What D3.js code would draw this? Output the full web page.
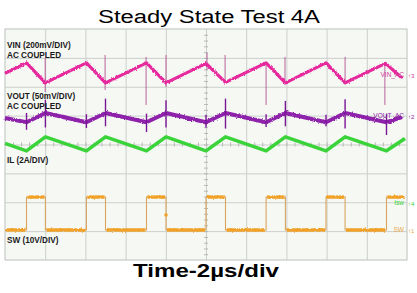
<!DOCTYPE html>
<html>
<head>
<meta charset="utf-8">
<script src="https://cdn.jsdelivr.net/npm/d3@7"></script>
<style>
  body { margin: 0; background: #fff; }
  text { font-family: "Liberation Sans", Arial, sans-serif; }
</style>
</head>
<body>
<script>
// time in µs (2µs/div), values in channel units
const riseT = [1.07, 4.05, 7.04, 10.0, 12.99, 15.97, 18.98]
const fallT = [2.01, 5.0, 8.01, 10.97, 13.95, 16.92]

const vinT  = [0, 1.07, 2.01, 4.05, 5.0, 7.04, 8.01, 10.0, 10.97, 12.99, 13.95, 15.97, 16.92, 18.93, 19.75]
const vinMv = [11, 83, -55, 83, -55, 83, -55, 80, -52, 83, -55, 83, -55, 80, -21]
const vinSpikeT  = [2.0, 4.98, 7.02, 8.01, 10.05, 10.95, 12.99, 13.93, 16.92, 18.9]
const vinSpikeHi = [118, 138, 125, 138, 152, 138, 83, 125, 125, 69]
const vinSpikeLo = [-118, -104, -208, -83, 35, -55, -208, -69, -69, -208]

const voutT  = [0, 1.07, 2.01, 4.05, 5.0, 7.04, 8.01, 10.0, 10.97, 12.99, 13.95, 15.97, 16.92, 18.98, 19.75]
const voutMv = [-3.5, -11, 5, -11, 5, -11, 5, -11, 5, -11, 5, -11, 5, -11, -2]
const voutSpikeT  = [1.07, 2.01, 4.05, 5.0, 7.04, 8.01, 10.0, 10.97, 12.99, 13.95, 15.97, 16.92, 18.98]
const voutSpikeHi = [5, 28, 3, 30, 4, 27, 2, 30, 3, 26, 2, 29, 3]
const voutSpikeLo = [-24, -20, -21, -18, -28, -20, -20, -22, -19, -18, -18, -22, -33]

const ilT = [0, 1.07, 2.01, 4.05, 5.0, 7.04, 8.01, 10.0, 10.97, 12.99, 13.95, 15.97, 16.92, 18.98, 19.9]
const ilA = [4.12, 3.6, 4.57, 3.6, 4.57, 3.6, 4.57, 3.6, 4.57, 3.6, 4.57, 3.6, 4.57, 3.6, 4.45]

const swHigh = 11.4
const swLow = 0
const swGlitch = [8.01, 5.2]

const width = 417
const height = 293
const plotL = 5, plotR = 407, plotT = 29, plotB = 260

const svg = d3.select("body").append("svg")
  .attr("width", width)
  .attr("height", height)

// scope trace fuzz
const filt = svg.append("defs").append("filter").attr("id", "fuzz")
  .attr("x", "-5%").attr("y", "-50%").attr("width", "110%").attr("height", "200%")
filt.append("feTurbulence").attr("type", "fractalNoise").attr("baseFrequency", "0.9 0.6")
  .attr("numOctaves", 1).attr("seed", 3).attr("result", "n")
filt.append("feDisplacementMap").attr("in", "SourceGraphic").attr("in2", "n")
  .attr("scale", 3).attr("xChannelSelector", "R").attr("yChannelSelector", "G")

const x = d3.scaleLinear().domain([0, 20]).range([plotL, plotR])
const yDiv = d3.scaleLinear().domain([-4, 4]).range([plotB, plotT])

// scope channel settings: zero position (div) and units per div
const vinY  = v => yDiv(2.41 + v / 200)
const voutY = v => yDiv(0.99 + v / 50)
const ilY   = v => yDiv(-2.02 + v / 2)
const swY   = v => yDiv(-2.96 + v / 10)

svg.append("rect")
  .attr("x", plotL).attr("y", plotT)
  .attr("width", plotR - plotL).attr("height", plotB - plotT)
  .attr("fill", "#f6f8f4")
  .attr("stroke", "#bcc0bc")

// grid
svg.append("g")
  .attr("transform", "translate(0," + plotB + ")")
  .call(d3.axisBottom(x).tickValues(d3.range(2, 20, 2)).tickSize(-(plotB - plotT)).tickFormat(""))
  .call(g => g.select(".domain").remove())
  .selectAll("line").attr("stroke", "#cbcfcb")

svg.append("g")
  .attr("transform", "translate(" + plotL + ",0)")
  .call(d3.axisLeft(yDiv).tickValues(d3.range(-3, 4, 1)).tickSize(-(plotR - plotL)).tickFormat(""))
  .call(g => g.select(".domain").remove())
  .selectAll("line").attr("stroke", "#cbcfcb")

// minor ticks on centre lines
svg.append("g")
  .attr("transform", "translate(0," + (yDiv(0) + 2) + ")")
  .call(d3.axisTop(x).tickValues(d3.range(0.4, 20, 0.4)).tickSize(4).tickFormat(""))
  .call(g => g.select(".domain").remove())
  .selectAll("line").attr("stroke", "#b5b9b5")

svg.append("g")
  .attr("transform", "translate(" + (x(10) + 2) + ",0)")
  .call(d3.axisLeft(yDiv).tickValues(d3.range(-3.8, 4, 0.2)).tickSize(4).tickFormat(""))
  .call(g => g.select(".domain").remove())
  .selectAll("line").attr("stroke", "#b5b9b5")

const line = d3.line()

// VIN
svg.append("g").selectAll("line")
  .data(vinSpikeT)
  .enter().append("line")
  .attr("x1", d => x(d)).attr("x2", d => x(d))
  .attr("y1", (d, i) => vinY(vinSpikeHi[i]))
  .attr("y2", (d, i) => vinY(vinSpikeLo[i]))
  .attr("stroke", "#b0488c").attr("stroke-width", 1).attr("opacity", 0.85)

svg.append("path")
  .attr("d", line(vinT.map((t, i) => [x(t), vinY(vinMv[i])])))
  .attr("fill", "none").attr("stroke", "#e62a9e").attr("stroke-width", 3.2)
  .attr("stroke-linejoin", "round")
  .attr("filter", "url(#fuzz)")

// VOUT
svg.append("path")
  .attr("d", line(voutT.map((t, i) => [x(t), voutY(voutMv[i])])))
  .attr("fill", "none").attr("stroke", "#8e24aa").attr("stroke-width", 4)
  .attr("stroke-linejoin", "round")
  .attr("filter", "url(#fuzz)")

svg.append("g").selectAll("line")
  .data(voutSpikeT)
  .enter().append("line")
  .attr("x1", d => x(d)).attr("x2", d => x(d))
  .attr("y1", (d, i) => voutY(voutSpikeHi[i]))
  .attr("y2", (d, i) => voutY(voutSpikeLo[i]))
  .attr("stroke", "#7a1596").attr("stroke-width", 1.4)

// IL
svg.append("path")
  .attr("d", line(ilT.map((t, i) => [x(t), ilY(ilA[i])])))
  .attr("fill", "none").attr("stroke", "#3ad43a").attr("stroke-width", 3.6)
  .attr("stroke-linejoin", "round")

// SW
let swPts = [[0, swLow]]
riseT.forEach((r, i) => {
  swPts.push([r, swLow], [r, swHigh])
  if (i < fallT.length) swPts.push([fallT[i], swHigh], [fallT[i], swLow])
})
swPts.push([19.9, swHigh])

svg.append("path")
  .attr("d", line(swPts.map(d => [x(d[0]), swY(d[1])])))
  .attr("fill", "none").attr("stroke", "#d9a55e").attr("stroke-width", 1.1)

let swLevels = []
for (let i = 0; i < swPts.length - 1; i++) {
  if (swPts[i][1] === swPts[i + 1][1] && swPts[i][0] !== swPts[i + 1][0]) swLevels.push([swPts[i], swPts[i + 1]])
}
svg.append("g").attr("filter", "url(#fuzz)").selectAll("line")
  .data(swLevels)
  .enter().append("line")
  .attr("x1", d => x(d[0][0]) + 1).attr("x2", d => x(d[1][0]) - 1)
  .attr("y1", d => swY(d[0][1])).attr("y2", d => swY(d[1][1]))
  .attr("stroke", "#f0a128").attr("stroke-width", 3.4)

svg.append("circle")
  .attr("cx", x(swGlitch[0])).attr("cy", swY(swGlitch[1]))
  .attr("r", 1.8).attr("fill", "#f0a128")

// channel labels
const labels = [
  ["VIN (200mV/DIV)", 48], ["AC COUPLED", 58],
  ["VOUT (50mV/DIV)", 99], ["AC COUPLED", 109],
  ["IL (2A/DIV)", 163], ["SW (10V/DIV)", 243]
]
svg.append("g").selectAll("text")
  .data(labels)
  .enter().append("text")
  .attr("x", 7).attr("y", d => d[1])
  .attr("font-size", 8.2).attr("font-weight", "bold").attr("fill", "#1a1a1a")
  .text(d => d[0])

const markers = [
  ["VIN_AC", "3", 2.41, "#d23a9c"],
  ["VOUT_AC", "2", 0.99, "#8c22a6"],
  ["Isw", "4", -2.02, "#3ad43a"],
  ["SW", "1", -2.96, "#e8a84a"]
]
const mk = svg.append("g").selectAll("g")
  .data(markers)
  .enter().append("g")
mk.append("text")
  .attr("x", 404).attr("y", d => yDiv(d[2]) + 2.5)
  .attr("text-anchor", "end").attr("font-size", 6.5).attr("fill", d => d[3])
  .text(d => d[0])
mk.append("text")
  .attr("x", 408).attr("y", d => yDiv(d[2]) + 3)
  .attr("font-size", 6).attr("fill", d => d[3])
  .text(d => "\u2191" + d[1])

svg.append("text")
  .attr("x", 209).attr("y", 23)
  .attr("text-anchor", "middle").attr("font-size", 18)
  .attr("textLength", 222).attr("lengthAdjust", "spacingAndGlyphs")
  .text("Steady State Test 4A")

svg.append("text")
  .attr("x", 206).attr("y", 277)
  .attr("text-anchor", "middle").attr("font-size", 18).attr("font-weight", "bold")
  .attr("textLength", 146).attr("lengthAdjust", "spacingAndGlyphs")
  .text("Time-2µs/div")
</script>
</body>
</html>
